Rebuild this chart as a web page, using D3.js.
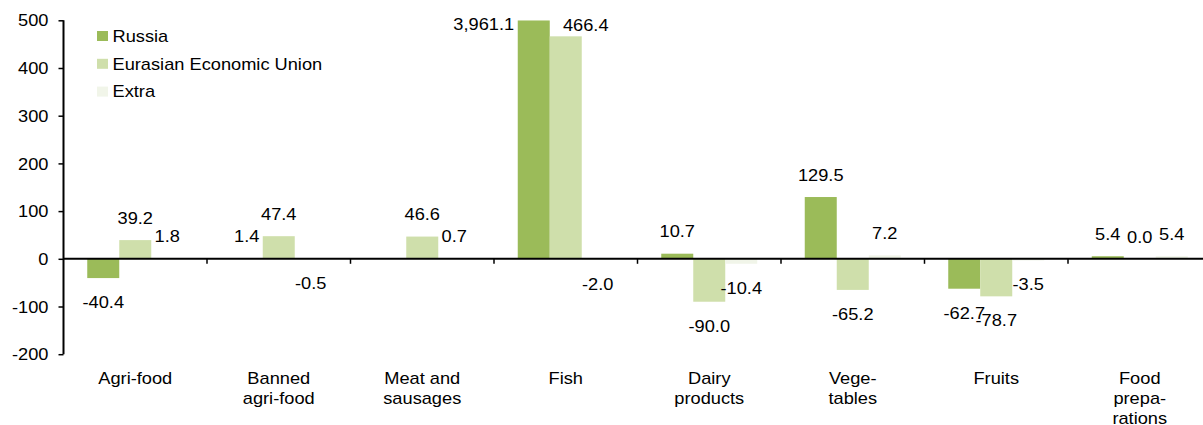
<!DOCTYPE html>
<html>
<head>
<meta charset="utf-8">
<script src="https://cdn.jsdelivr.net/npm/d3@7"></script>
<style>
  html, body { margin: 0; padding: 0; background: #fff; }
  svg { display: block; }
  text { font-family: "Liberation Sans", Arial, sans-serif; font-size: 16px; fill: #000; }
</style>
</head>
<body>
<svg id="chart" width="1203" height="425"></svg>
<script>
// ---- data ----
const categories = [
  ["Agri-food"],
  ["Banned", "agri-food"],
  ["Meat and", "sausages"],
  ["Fish"],
  ["Dairy", "products"],
  ["Vege-", "tables"],
  ["Fruits"],
  ["Food", "prepa-", "rations"]
];
const seriesNames = ["Russia", "Eurasian Economic Union", "Extra"];
const russia = [-40.4, 1.4, null, 3961.1, 10.7, 129.5, -62.7, 5.4];
const eaeu   = [39.2, 47.4, 46.6, 466.4, -90.0, -65.2, -78.7, 0.0];
const extra  = [1.8, -0.5, 0.7, -2.0, -10.4, 7.2, -3.5, 5.4];
const yTicks = [-200, -100, 0, 100, 200, 300, 400, 500];

// ---- style ----
const colors = ["#9bbb59", "#cfdfab", "#f1f5e9"];
const SX = 1.14; // horizontal text stretch of the original
// manual label nudges (series index, category index) -> [dx, dy]
const labelNudge = { "0-3": [-50, 26], "1-3": [20, 11] };

const svg = d3.select("#chart");
const series = [russia, eaeu, extra];

const y = d3.scaleLinear().domain([-200, 500]).range([354.2, 20.3]).clamp(true);
const step = 143.5;
const x0 = d3.scaleBand()
  .domain(d3.range(categories.length))
  .range([63.5, 63.5 + step * categories.length])
  .paddingInner(47.5 / 143.5)
  .paddingOuter(47.5 / 143.5 / 2);
const x1 = d3.scaleBand().domain(d3.range(series.length)).range([0, x0.bandwidth()]);

const defs = svg.append("defs");
defs.append("clipPath").attr("id", "plotclip")
  .append("rect").attr("x", 63.5).attr("y", y(500)).attr("width", 1203).attr("height", y(-200) - y(500));

// bars
const plot = svg.append("g").attr("clip-path", "url(#plotclip)");
series.forEach((vals, si) => {
  plot.selectAll(null)
    .data(vals.map((v, ci) => ({ v, ci })).filter(d => d.v !== null))
    .enter().append("rect")
    .attr("x", d => x0(d.ci) + x1(si))
    .attr("width", x1.bandwidth())
    .attr("y", d => Math.min(y(d.v), y(0)))
    .attr("height", d => Math.abs(y(d.v) - y(0)))
    .attr("fill", colors[si]);
});

// axes
const yAxis = svg.append("g").attr("transform", "translate(63.5,0)")
  .call(d3.axisLeft(y).tickValues(yTicks).tickSize(5));
yAxis.select(".domain").attr("stroke", "#000").attr("stroke-width", 2).attr("d", `M0,${y(500)}V${y(-200)}`);
yAxis.selectAll(".tick line").attr("stroke", "#000").attr("stroke-width", 1.5);
yAxis.selectAll(".tick text").remove();
yAxis.selectAll(".tick").append("text")
  .attr("text-anchor", "end")
  .attr("transform", `translate(-15,5.6) scale(${SX},1)`)
  .text(d => String(d))
  .style("font-size", "16px");

// zero line
svg.append("line")
  .attr("x1", 63.5).attr("x2", 1203)
  .attr("y1", y(0)).attr("y2", y(0))
  .attr("stroke", "#000").attr("stroke-width", 2);

// category boundary ticks
const bounds = d3.range(1, categories.length + 1).map(i => 63.5 + i * x0.step());
svg.selectAll(null).data(bounds).enter().append("line")
  .attr("x1", d => d).attr("x2", d => d)
  .attr("y1", y(0)).attr("y2", y(0) + 5)
  .attr("stroke", "#000").attr("stroke-width", 1.5);

// category labels
categories.forEach((lines, ci) => {
  const cx = x0(ci) + x0.bandwidth() / 2;
  lines.forEach((ln, li) => {
    svg.append("text")
      .attr("text-anchor", "middle")
      .attr("transform", `translate(${cx},${383.5 + li * 20}) scale(${SX},1)`)
      .text(ln);
  });
});

// value labels
const fmt = v => d3.format(",.1f")(v).replace("\u2212", "-");
series.forEach((vals, si) => {
  vals.forEach((v, ci) => {
    if (v === null) return;
    const bx = x0(ci) + x1(si) + x1.bandwidth() / 2;
    const by = v >= 0 ? y(v) - 16.3 : y(v) + 29.8;
    const n = labelNudge[`${si}-${ci}`] || [0, 0];
    svg.append("text")
      .attr("text-anchor", "middle")
      .attr("transform", `translate(${bx + n[0]},${by + n[1]}) scale(${SX},1)`)
      .text(fmt(v));
  });
});

// legend
const legend = svg.append("g");
seriesNames.forEach((name, i) => {
  const ly = 36 + i * 27.8;
  legend.append("rect").attr("x", 97).attr("y", ly - 5).attr("width", 11).attr("height", 10).attr("fill", colors[i]);
  legend.append("text")
    .attr("transform", `translate(112.5,${ly + 5.7}) scale(${SX},1)`)
    .text(name);
});
</script>
</body>
</html>
